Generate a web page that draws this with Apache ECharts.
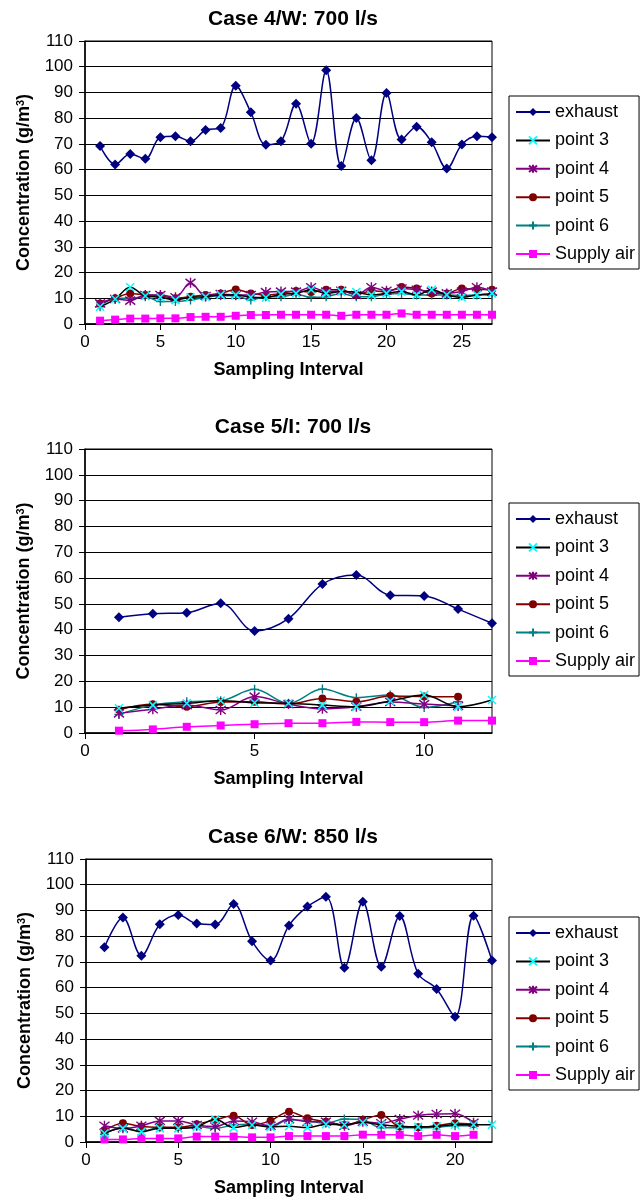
<!DOCTYPE html>
<html><head><meta charset="utf-8">
<script src="https://cdn.jsdelivr.net/npm/echarts@6/dist/echarts.min.js"></script>
<style>html,body{margin:0;padding:0;background:#fff}#c{width:640px;height:1204px}</style>
</head><body><div id="c"></div>
<script>
// ---------- data ----------
const seriesNames = ['exhaust', 'point 3', 'point 4', 'point 5', 'point 6', 'Supply air'];
const titles = ['Case 4/W: 700 l/s', 'Case 5/I: 700 l/s', 'Case 6/W: 850 l/s'];
const xMax = [27, 12, 22];
const xTickStep = 5;
const yMin = 0, yMax = 110, yTickStep = 10;

// Case 4/W: 700 l/s
const c4_exhaust = [69.2,62.0,66.1,64.2,72.6,73.0,71.0,75.4,76.2,92.6,82.3,69.7,71.0,85.6,70.1,98.6,61.4,80.1,63.6,89.8,71.7,76.7,70.6,60.4,69.8,73.0,72.6];
const c4_point3  = [6.7,9.7,14.3,10.9,10.4,9.3,10.4,10.6,11.3,11.3,10.4,10.3,11.6,11.9,13.3,11.9,12.6,12.4,11.3,11.9,12.6,11.3,13.3,11.3,10.4,11.3,11.9];
const c4_point4  = [8.0,9.7,9.1,11.3,11.3,10.4,16.0,10.9,11.6,11.3,11.3,12.4,12.6,12.6,14.3,12.6,12.9,11.3,14.3,12.9,13.8,13.3,12.6,11.9,12.6,14.3,12.6];
const c4_point5  = [8.0,10.0,11.9,11.3,11.0,10.0,10.6,11.3,11.9,13.4,11.9,11.3,11.9,12.8,12.4,13.3,13.3,11.3,12.9,12.5,14.4,13.8,11.9,11.9,13.8,13.5,13.3];
const c4_point6  = [6.7,10.0,10.0,10.6,8.7,8.7,9.3,10.4,11.0,11.0,9.3,10.6,10.6,11.6,10.4,10.6,11.9,10.6,10.6,11.6,11.9,11.3,11.3,11.3,11.0,11.3,11.3];
const c4_supply  = [1.3,1.7,2.1,2.1,2.2,2.2,2.7,2.8,2.8,3.2,3.5,3.5,3.6,3.6,3.6,3.6,3.2,3.6,3.6,3.6,4.1,3.6,3.6,3.6,3.6,3.6,3.6];

// Case 5/I: 700 l/s
const c5_exhaust = [44.8,46.2,46.6,50.3,39.5,44.3,57.7,61.2,53.4,53.1,48.0,42.5];
const c5_point3  = [9.6,10.8,11.5,12.5,11.7,11.5,10.8,10.2,12.4,14.7,10.2,12.8];
const c5_point4  = [7.6,9.2,10.8,8.9,14.1,11.2,9.4,10.2,12.0,11.2,10.5];
const c5_point5  = [9.0,11.1,10.2,12.0,12.1,11.2,13.4,12.1,14.3,14.1,14.0];
const c5_point6  = [7.2,10.8,12.1,12.5,16.9,11.5,17.0,13.7,14.7,9.9,12.1];
const c5_supply  = [0.9,1.4,2.4,2.9,3.4,3.8,3.8,4.3,4.2,4.2,4.8,4.8];

// Case 6/W: 850 l/s
const c6_exhaust = [75.7,87.3,72.4,84.6,88.2,84.9,84.5,92.5,78.0,70.5,84.2,91.5,95.3,67.7,93.4,68.1,87.8,65.4,59.5,48.7,87.9,70.5];
const c6_point3  = [3.4,5.3,4.0,5.3,5.3,5.9,8.8,5.6,6.6,5.9,6.1,5.6,6.9,6.7,7.6,6.7,6.1,5.9,6.1,6.7,6.7,6.7];
const c6_point4  = [6.3,5.3,6.3,8.2,8.2,6.6,6.0,8.2,7.9,6.3,8.9,7.9,7.9,6.3,7.9,7.3,8.9,10.3,10.9,11.0,7.5];
const c6_point5  = [4.4,7.3,6.0,5.7,5.7,6.9,8.6,10.2,6.6,8.3,11.8,9.2,7.9,6.6,8.6,10.5,6.0,5.7,6.3,7.3,6.9];
const c6_point6  = [3.0,5.7,4.1,5.7,5.3,6.0,5.3,6.6,6.9,6.0,8.6,8.2,7.3,8.9,8.6,5.5,5.5,5.5,5.7,6.3,6.3];
const c6_supply  = [1.0,1.0,1.4,1.4,1.4,2.1,2.1,2.1,1.8,1.8,2.3,2.3,2.3,2.3,2.85,2.8,2.8,2.3,2.8,2.3,2.8];

const cases = [
  [c4_exhaust, c4_point3, c4_point4, c4_point5, c4_point6, c4_supply],
  [c5_exhaust, c5_point3, c5_point4, c5_point5, c5_point6, c5_supply],
  [c6_exhaust, c6_point3, c6_point4, c6_point5, c6_point6, c6_supply]
];

// ---------- styles / layout ----------
const FONT = 'Liberation Sans, Arial, Helvetica, sans-serif';
const styles = [
  {symbol: 'diamond', size: 10, line: '#000080', fill: '#000080', stroke: '#000080', bw: 0},
  {symbol: 'path://M0,0L10,10M10,0L0,10', size: 8, line: '#000000', fill: '#00FFFF', stroke: '#00FFFF', bw: 1.6},
  {symbol: 'path://M1,1L9,9M9,1L1,9M5,0L5,10', size: 10, line: '#800080', fill: '#800080', stroke: '#800080', bw: 1.4},
  {symbol: 'circle', size: 8, line: '#800000', fill: '#800000', stroke: '#800000', bw: 0},
  {symbol: 'path://M5,0L5,10M0,5L10,5', size: 9, line: '#008080', fill: '#008080', stroke: '#008080', bw: 1.4},
  {symbol: 'rect', size: 8, line: '#FF00FF', fill: '#FF00FF', stroke: '#FF00FF', bw: 0}
];
const layout = [
  {top: 41, height: 283, left: 85, titleTop: 4, legendTop: 96},
  {top: 449, height: 284, left: 85, titleTop: 412, legendTop: 503},
  {top: 859, height: 283, left: 86, titleTop: 822, legendTop: 917}
];

const grid = [], xAxis = [], yAxis = [], title = [], legend = [], series = [];
layout.forEach((L, gi) => {
  grid.push({left: L.left, top: L.top, width: 492 - L.left, height: L.height, show: true,
    borderColor: '#000', borderWidth: 1, backgroundColor: 'transparent'});
  title.push({text: titles[gi], left: 288, top: L.titleTop, textAlign: 'center',
    textStyle: {fontFamily: FONT, fontWeight: 'bold', fontSize: 21, color: '#000'}});
  xAxis.push({type: 'value', gridIndex: gi, min: 0, max: xMax[gi], interval: xTickStep,
    name: 'Sampling Interval', nameLocation: 'middle', nameGap: 37,
    nameTextStyle: {fontFamily: FONT, fontWeight: 'bold', fontSize: 18, color: '#000'},
    axisLine: {show: true, lineStyle: {color: '#000', width: 1.5}},
    axisTick: {show: true, length: 6, lineStyle: {color: '#000'}},
    axisLabel: {fontFamily: FONT, fontSize: 17, color: '#000', margin: 10, showMaxLabel: false,
      formatter: v => (v % xTickStep === 0 ? String(v) : '')},
    splitLine: {show: false}});
  yAxis.push({type: 'value', gridIndex: gi, min: yMin, max: yMax, interval: yTickStep,
    name: 'Concentration (g/m{sup|3})', nameLocation: 'middle', nameGap: 52,
    nameTextStyle: {fontFamily: FONT, fontWeight: 'bold', fontSize: 18, color: '#000',
      rich: {sup: {fontFamily: FONT, fontWeight: 'bold', fontSize: 11, color: '#000', verticalAlign: 'top', lineHeight: 12}}},
    axisLine: {show: true, lineStyle: {color: '#000', width: 1.5}},
    axisTick: {show: true, length: 6, lineStyle: {color: '#000'}},
    axisLabel: {fontFamily: FONT, fontSize: 17, color: '#000', margin: 12},
    splitLine: {show: true, lineStyle: {color: '#000', width: 1}}});
  legend.push({data: seriesNames, orient: 'vertical', left: 509, top: L.legendTop,
    itemWidth: 34, itemHeight: 10, itemGap: 10.4, padding: [7, 4, 6, 6],
    backgroundColor: '#fff', borderColor: '#000', borderWidth: 1, borderRadius: 0,
    selectedMode: false,
    textStyle: {fontFamily: FONT, fontSize: 18, color: '#000', lineHeight: 18}});
  cases[gi].forEach((arr, si) => {
    const s = styles[si];
    series.push({
      name: seriesNames[si], type: 'line', xAxisIndex: gi, yAxisIndex: gi,
      data: arr.map((v, i) => [i + 1, v]),
      smooth: 0.35, symbol: s.symbol, symbolSize: s.size, showAllSymbol: true,
      lineStyle: {color: s.line, width: 1.5},
      itemStyle: {color: s.fill, borderColor: s.stroke, borderWidth: s.bw},
      z: 10 - si, animation: false
    });
  });
});

const chart = echarts.init(document.getElementById('c'), null, {renderer: 'canvas'});
chart.setOption({animation: false, backgroundColor: '#fff', title, grid, xAxis, yAxis, legend, series});
</script></body></html>
